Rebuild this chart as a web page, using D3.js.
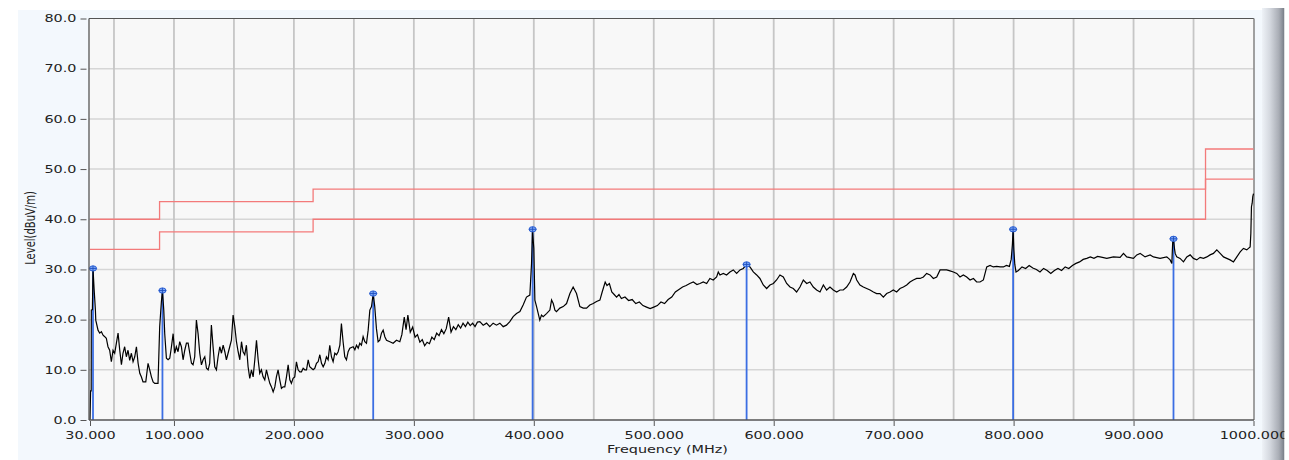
<!DOCTYPE html>
<html><head><meta charset="utf-8">
<script src="https://cdn.jsdelivr.net/npm/d3@7/dist/d3.min.js"></script>
<style>
body{margin:0;background:#fff}
svg{display:block}
text{font-family:"DejaVu Sans",Verdana,sans-serif;font-size:10px;fill:#222}
</style>
</head><body>
<svg id="c" width="1289" height="460"></svg>
<script>
// ---- data ----
const freqMHz=[30.0,30.5,31.0,31.1,32.0,32.5,33.4,34.5,34.8,36.7,38.1,39.5,40.9,42.3,43.6,45.0,46.4,47.8,49.2,50.6,52.0,53.4,54.8,56.2,57.5,58.9,60.3,61.7,63.1,64.5,65.9,67.3,68.7,70.1,71.5,72.8,74.2,76.5,78.4,79.8,81.2,82.6,84.0,86.7,88.1,89.5,90.4,91.5,92.3,93.7,95.1,96.5,97.9,99.3,100.6,102.0,103.4,104.8,106.2,107.6,109.0,110.4,111.8,113.2,114.6,115.9,117.3,118.7,120.1,121.5,122.9,124.3,125.7,127.1,128.5,129.8,131.2,132.6,134.0,135.4,136.8,138.2,139.6,141.0,142.4,143.7,145.1,146.5,147.9,149.3,150.7,152.1,153.5,154.9,156.3,157.6,159.0,160.4,161.8,163.2,164.6,166.0,167.4,168.8,170.2,171.5,172.9,174.3,175.7,177.1,178.5,179.9,181.3,182.7,184.1,185.4,186.8,188.2,189.6,191.0,192.4,193.8,195.2,196.6,197.9,199.3,200.7,202.1,203.5,204.9,206.3,207.7,209.1,210.5,211.9,213.2,214.6,216.0,217.4,218.8,220.2,221.6,223.0,224.4,225.8,227.1,228.5,229.9,231.3,232.7,234.1,235.5,236.9,238.3,239.6,241.0,242.4,243.8,245.2,246.6,249.4,250.8,252.2,253.6,254.9,256.3,257.7,259.1,260.5,261.9,263.3,264.7,266.1,267.4,268.8,270.2,271.6,273.0,274.4,275.8,277.2,280.0,282.7,285.5,288.3,290.0,292.0,293.5,295.0,297.0,299.0,301.0,303.0,305.0,307.0,309.0,311.0,313.0,315.0,317.0,319.0,321.0,323.0,325.0,327.0,329.0,331.0,333.0,335.0,337.0,339.0,341.0,343.0,345.0,347.0,349.0,351.0,353.0,355.0,357.8,360.6,363.3,366.1,368.9,371.7,374.5,377.2,380.0,382.8,385.6,388.4,391.1,393.9,396.7,398.1,398.9,400.0,400.9,402.3,403.7,405.0,406.4,407.8,410.6,413.4,414.8,416.2,417.6,418.9,421.7,424.5,427.3,430.1,432.8,435.6,438.4,441.2,444.0,446.7,449.5,452.3,455.1,457.0,459.5,461.0,463.0,465.0,467.0,469.0,471.0,473.0,476.0,479.0,482.0,485.0,488.0,491.0,494.0,497.0,500.0,503.0,506.0,509.0,512.0,515.0,518.0,521.0,524.0,527.0,530.0,533.0,536.0,538.5,541.3,544.1,546.8,549.6,552.4,553.8,555.2,558.0,560.7,563.5,566.3,569.1,571.9,574.6,577.4,580.2,583.0,585.8,588.5,591.3,594.1,596.9,599.7,602.4,605.2,608.0,610.8,613.6,616.3,619.1,621.9,624.7,627.5,630.2,633.0,635.8,638.6,641.4,644.1,646.9,649.7,652.5,655.3,658.0,660.8,663.6,666.4,667.8,669.2,671.9,674.7,677.5,680.3,683.1,685.8,688.6,691.4,694.2,697.0,699.7,702.5,705.3,708.1,710.9,713.6,716.4,719.2,722.0,724.8,727.5,730.3,733.1,735.9,738.7,741.4,744.2,747.0,749.8,752.6,755.3,758.1,760.9,763.7,766.5,769.2,772.0,774.8,777.6,780.4,783.1,785.9,788.7,791.5,794.0,796.5,798.0,799.0,799.6,800.2,801.0,802.0,804.0,807.0,810.0,813.0,816.0,819.0,822.0,825.0,828.0,831.0,834.0,837.0,840.0,843.0,846.0,849.0,852.0,855.0,858.0,861.0,864.0,867.0,870.0,872.1,877.7,883.2,888.8,891.6,894.3,899.9,902.7,905.5,909.6,913.8,916.6,922.1,927.7,930.5,931.9,932.7,933.3,934.1,934.7,936.0,938.8,941.6,944.4,947.2,949.9,952.7,955.5,958.3,961.1,963.8,966.6,969.4,972.2,975.0,977.7,980.5,983.3,986.1,988.9,991.6,994.4,995.8,997.2,997.8,998.3,998.9,999.4,1000.0];
const levelDb=[0.0,5.8,5.8,21.9,22.0,30.2,26.2,21.9,19.9,17.9,17.3,17.6,16.9,16.6,16.3,14.6,13.9,11.6,13.9,13.3,15.3,17.3,13.9,11.0,13.3,14.6,12.6,13.9,11.9,13.3,11.6,12.6,14.6,11.3,9.3,8.6,7.6,7.6,11.3,10.0,8.6,7.6,7.3,7.3,18.6,23.5,25.8,21.9,17.2,12.3,12.0,12.3,14.6,17.2,13.3,14.6,13.6,15.6,14.6,12.0,13.9,15.3,15.3,13.3,11.3,11.0,12.6,19.9,17.2,13.3,11.0,12.0,12.6,10.3,10.0,11.3,18.9,14.6,10.6,10.0,12.6,14.6,13.3,14.9,13.6,12.0,13.3,14.6,15.9,20.9,18.6,15.6,13.6,12.0,15.6,13.6,13.0,14.9,10.6,8.3,10.0,8.6,12.0,15.9,12.0,9.3,10.0,8.6,8.0,10.0,8.6,7.3,6.6,5.6,6.6,8.6,10.0,8.0,6.3,6.6,6.6,8.6,11.0,8.0,7.3,8.3,8.6,11.6,10.0,9.6,9.6,10.3,10.0,10.0,12.0,10.6,10.3,10.0,10.3,11.3,11.6,13.0,11.3,10.6,11.3,12.6,12.0,14.9,12.6,11.6,13.3,13.0,13.6,14.9,19.2,15.6,12.6,12.0,13.6,14.3,14.6,14.0,14.9,14.3,15.3,14.9,16.6,15.6,15.3,17.9,21.9,22.6,25.2,22.6,18.2,15.6,15.9,17.3,17.9,16.6,15.9,15.6,15.3,15.9,15.6,17.0,20.5,18.0,20.9,17.5,18.5,16.5,17.0,15.5,16.0,14.8,15.5,15.2,16.5,16.0,17.3,16.8,18.0,17.2,18.2,20.5,17.5,18.6,18.0,19.0,18.3,19.3,18.6,19.5,18.8,19.3,18.6,19.5,19.6,18.9,19.3,18.6,19.3,18.9,19.3,18.6,18.9,19.6,20.6,21.2,21.6,22.9,24.5,24.9,31.2,37.8,34.2,23.9,22.6,21.2,19.9,20.9,20.6,21.2,21.9,23.9,23.2,21.9,21.6,22.3,22.6,23.2,25.2,26.5,25.2,22.6,22.3,22.3,22.9,23.2,23.6,23.9,25.5,27.5,26.8,27.2,25.5,25.0,24.5,25.0,24.2,24.5,23.8,24.0,23.2,23.5,22.8,22.5,22.2,22.5,22.8,23.5,23.2,24.0,24.5,25.5,26.0,26.5,26.8,27.2,27.5,27.0,27.2,27.5,27.2,28.2,27.9,28.5,29.5,28.9,29.2,28.9,29.5,29.9,29.2,29.9,30.2,31.0,30.5,29.5,28.9,28.2,26.9,26.2,26.9,27.2,27.9,28.9,28.5,27.2,26.5,26.2,25.5,26.5,27.9,27.2,27.5,26.5,25.9,25.5,26.9,25.9,26.5,25.9,25.5,25.9,25.9,26.5,27.5,29.2,28.9,27.9,26.9,26.5,26.2,25.9,25.5,25.2,25.2,24.5,25.2,25.5,25.9,25.5,26.2,26.5,26.9,27.5,27.9,28.2,28.2,28.5,29.2,28.9,28.2,28.5,29.9,29.9,29.9,29.7,29.5,29.2,28.5,28.9,28.5,27.9,28.2,27.5,27.5,27.9,30.5,30.8,30.5,30.6,30.5,30.5,30.8,30.6,32.0,35.0,38.0,34.0,31.0,29.5,29.8,30.5,30.2,30.8,30.3,30.0,29.5,30.2,29.8,29.2,29.8,30.2,29.8,30.5,30.2,30.8,31.2,31.5,32.0,32.2,32.5,32.2,32.6,32.5,32.2,32.5,32.4,33.2,32.5,32.2,32.9,33.2,32.5,32.9,32.5,32.2,32.5,31.9,31.2,35.8,36.2,34.2,33.2,32.5,32.2,31.5,32.5,32.9,32.2,31.9,32.4,32.2,32.5,32.9,33.2,33.9,33.2,32.5,32.2,31.9,31.5,32.5,33.5,34.2,33.9,34.2,34.5,37.2,42.5,43.2,44.5,45.1];
const markerFreq=[32.5,90.4,266.1,399.0,577.4,799.6,933.3];
const markerLevel=[30.2,25.8,25.2,38.0,31.0,38.0,36.1];
const limitBreaks=[30,88,216,960,1000];
const limitUpper=[40,43.5,46,54,54];
const limitLower=[34,37.5,40,48,48];
const xTicks=[30,100,200,300,400,500,600,700,800,900,1000];
const xGrid=[50,100,150,200,250,300,350,400,450,500,550,600,650,700,750,800,850,900,950];
const yTicks=[0,10,20,30,40,50,60,70,80];

// ---- drawing ----
const svg=d3.select('#c');
const SX=1.44; // horizontal text stretch
const x=d3.scaleLinear().domain([30,1000]).range([90,1253.5]);
const y=d3.scaleLinear().domain([0,80]).range([420,18.5]);
const L=89,R=1254,T=18.5,B=420;

const defs=svg.append('defs');
const gr=defs.append('linearGradient').attr('id','edge').attr('x1','0').attr('x2','1').attr('y1','0').attr('y2','0');
[[0,'#eef2f7'],[0.35,'#d4d8df'],[0.75,'#a9adb5'],[0.9,'#8b9099'],[1,'#747982']].forEach(s=>gr.append('stop').attr('offset',s[0]).attr('stop-color',s[1]));

svg.append('rect').attr('x',18).attr('y',10).attr('width',1246).attr('height',450).attr('fill','#f3f8fd');
svg.append('rect').attr('x',1262).attr('y',8).attr('width',22.5).attr('height',452).attr('fill','url(#edge)');
svg.append('rect').attr('x',L).attr('y',T).attr('width',R-L).attr('height',B-T).attr('fill','#f8f8f8');

// grid
svg.append('g').selectAll('line').data(yTicks.filter(v=>v>0&&v<80)).join('line')
  .attr('x1',L).attr('x2',R).attr('y1',d=>y(d)).attr('y2',d=>y(d))
  .attr('stroke','#d6d6d6').attr('stroke-width',1.5);
svg.append('g').selectAll('line').data(xGrid).join('line')
  .attr('x1',d=>x(d)).attr('x2',d=>x(d)).attr('y1',T).attr('y2',B)
  .attr('stroke','#c6c6c6').attr('stroke-width',1.8);

// border top/right
svg.append('line').attr('x1',L).attr('x2',R).attr('y1',T).attr('y2',T).attr('stroke','#555').attr('stroke-width',1.2);
svg.append('line').attr('x1',R).attr('x2',R).attr('y1',T).attr('y2',B).attr('stroke','#8a8a8a').attr('stroke-width',1.6);

// limit lines
const lim=d3.line().curve(d3.curveStepAfter).x(d=>x(d[0])).y(d=>y(d[1]));
svg.append('path').datum(d3.zip(limitBreaks,limitUpper)).attr('d',lim).attr('fill','none').attr('stroke','#f37a7a').attr('stroke-width',1.3);
svg.append('path').datum(d3.zip(limitBreaks,limitLower)).attr('d',lim).attr('fill','none').attr('stroke','#f37a7a').attr('stroke-width',1.3);

// marker lines
svg.append('g').selectAll('line').data(d3.zip(markerFreq,markerLevel)).join('line')
  .attr('x1',d=>x(d[0])).attr('x2',d=>x(d[0])).attr('y1',d=>y(d[1])).attr('y2',B)
  .attr('stroke','#3b6ee3').attr('stroke-width',1.8);

// trace
const line=d3.line().x(d=>x(d[0])).y(d=>y(d[1]));
svg.append('path').datum(d3.zip(freqMHz,levelDb)).attr('d',line)
  .attr('fill','none').attr('stroke','#000').attr('stroke-width',1.2).attr('stroke-linejoin','miter');

// marker symbols
const mk=svg.append('g').selectAll('g').data(d3.zip(markerFreq,markerLevel)).join('g')
  .attr('transform',d=>`translate(${x(d[0])},${y(d[1])})`);
mk.append('ellipse').attr('rx',3.6).attr('ry',2.6).attr('fill','#7da8f4').attr('stroke','#2a5fd6').attr('stroke-width',1);
mk.append('line').attr('x1',-3.6).attr('x2',3.6).attr('stroke','#1f4fc0').attr('stroke-width',0.9);
mk.append('line').attr('y1',-2.6).attr('y2',2.6).attr('stroke','#1f4fc0').attr('stroke-width',0.9);

// axes
const ax=svg.append('g').attr('transform',`translate(0,${B})`)
  .call(d3.axisBottom(x).tickValues(xTicks).tickFormat(d3.format('.3f')).tickSizeOuter(0).tickSize(5).tickPadding(7));
ax.select('.domain').attr('d',`M${L},0H${R}`).attr('stroke','#555').attr('stroke-width',1.3);
ax.selectAll('.tick line').attr('stroke','#555').attr('transform','translate(0,1)');
ax.selectAll('.tick text').attr('transform',`scale(${SX},1)`).attr('fill','#222').style('font-family','"DejaVu Sans",Verdana,sans-serif').style('font-size','10px');

const ay=svg.append('g').attr('transform',`translate(${L},0)`)
  .call(d3.axisLeft(y).tickValues(yTicks).tickFormat(d3.format('.1f')).tickSize(0).tickSizeOuter(0).tickPadding(8.7));
ay.select('.domain').attr('d',`M0,${T}V${B}`).attr('stroke','#555').attr('stroke-width',1.3);
ay.selectAll('.tick').append('line').attr('x1',-8.5).attr('x2',-2.5).attr('stroke','#555').attr('stroke-width',1);
ay.selectAll('.tick text').attr('transform',`scale(${SX},1)`).attr('fill','#222').style('font-family','"DejaVu Sans",Verdana,sans-serif').style('font-size','10px');

// axis titles
svg.append('text').attr('transform',`translate(${(L+R)/2-4},453) scale(${SX},1)`).attr('text-anchor','middle').text('Frequency (MHz)');
svg.append('text').attr('transform',`translate(30,228) scale(${SX},1) rotate(-90)`).attr('text-anchor','middle').attr('dy','0.35em').text('Level(dBuV/m)');

// white margin at far right (clips labels like the original)
svg.append('rect').attr('x',1284.5).attr('y',0).attr('width',5).attr('height',460).attr('fill','#fff');
</script>
</body></html>
